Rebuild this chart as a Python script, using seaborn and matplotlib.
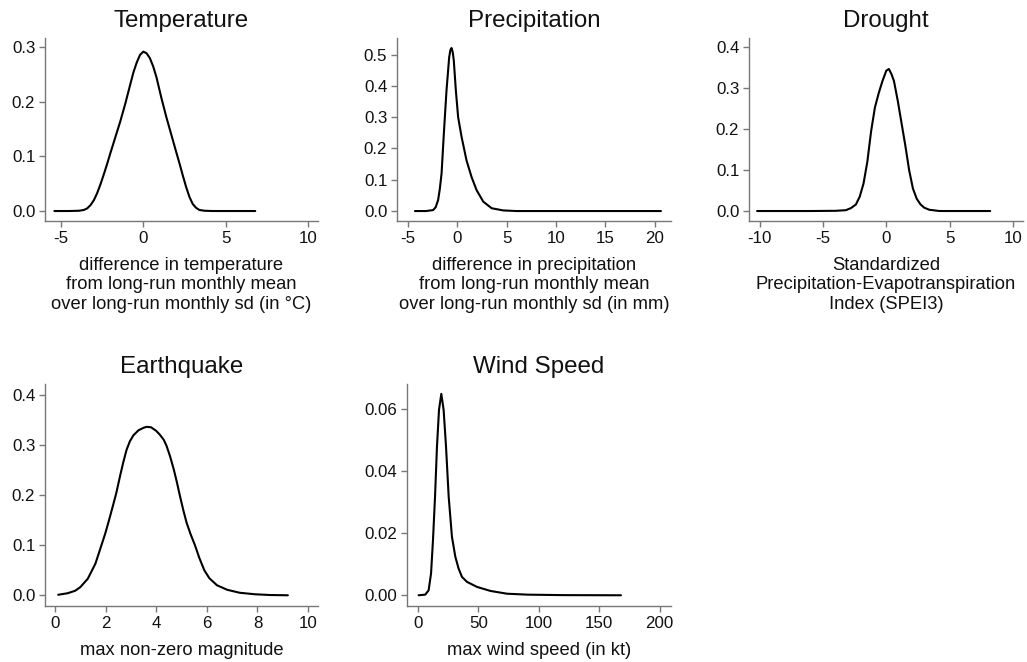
import numpy as np
import pandas as pd
import matplotlib
matplotlib.use('Agg')
import matplotlib.pyplot as plt
import seaborn as sns

# density curves
temp_x = [-5.4, -4.5, -3.9, -3.6, -3.4, -3.2, -3.0, -2.8, -2.6, -2.4, -2.2, -2.0, -1.7, -1.4, -1.1,
          -0.8, -0.6, -0.4, -0.2, 0.0, 0.2, 0.4, 0.6, 0.8, 1.1, 1.4, 1.7, 2.0, 2.2, 2.4, 2.6, 2.8,
          3.0, 3.2, 3.4, 3.7, 4.2, 5.0, 6.0, 6.8]
temp_y = [0, 0, 0.0005, 0.002, 0.005, 0.011, 0.02, 0.033, 0.049, 0.067, 0.086, 0.106, 0.135, 0.164,
          0.196, 0.231, 0.254, 0.272, 0.286, 0.292, 0.289, 0.280, 0.265, 0.245, 0.207, 0.172, 0.140,
          0.108, 0.087, 0.065, 0.044, 0.026, 0.013, 0.006, 0.002, 0.0005, 0, 0, 0, 0]

prec_x = [-4.3, -3.2, -2.46, -2.2, -1.95, -1.78, -1.6, -1.37, -1.1, -0.83, -0.7, -0.59, -0.47, -0.36,
          -0.15, 0.08, 0.43, 0.93, 1.44, 1.95, 2.63, 3.48, 4.65, 6, 10, 15, 20.65]
prec_y = [0, 0, 0.003, 0.012, 0.035, 0.07, 0.12, 0.247, 0.385, 0.491, 0.515, 0.521, 0.508, 0.481,
          0.385, 0.30, 0.237, 0.162, 0.109, 0.067, 0.03, 0.009, 0.002, 0, 0, 0, 0]

drought_x = [-10.2, -6, -4, -3.2, -2.8, -2.4, -2.1, -1.8, -1.5, -1.2, -0.9, -0.6, -0.3, 0, 0.2, 0.4,
             0.6, 0.9, 1.2, 1.5, 1.8, 2.1, 2.4, 2.7, 3.0, 3.4, 4.2, 6, 8.2]
drought_y = [0, 0, 0.0005, 0.002, 0.007, 0.016, 0.035, 0.067, 0.12, 0.195, 0.253, 0.288, 0.318, 0.343,
             0.347, 0.335, 0.318, 0.27, 0.215, 0.16, 0.1, 0.055, 0.03, 0.016, 0.008, 0.003, 0, 0, 0]

quake_x = [0.13, 0.5, 0.8, 1.0, 1.3, 1.6, 1.84, 2.0, 2.15, 2.3, 2.43, 2.57, 2.7, 2.83, 2.96, 3.1, 3.3,
           3.5, 3.62, 3.8, 4.0, 4.15, 4.3, 4.41, 4.55, 4.7, 4.82, 4.93, 5.07, 5.2, 5.35, 5.53, 5.7,
           5.9, 6.1, 6.4, 6.8, 7.3, 7.9, 8.5, 9.2]
quake_y = [0.001, 0.004, 0.009, 0.016, 0.033, 0.063, 0.1, 0.125, 0.152, 0.18, 0.205, 0.237, 0.265,
           0.29, 0.307, 0.319, 0.329, 0.334, 0.336, 0.335, 0.328, 0.32, 0.31, 0.298, 0.277, 0.25,
           0.225, 0.2, 0.17, 0.145, 0.123, 0.1, 0.075, 0.05, 0.034, 0.02, 0.011, 0.005, 0.002,
           0.0005, 0]

wind_x = [0.5, 6.0, 8.8, 10.8, 12.4, 14.1, 15.7, 17.4, 19.3, 21.2, 23.2, 25.4, 28.1, 30.9, 33.6, 36.4,
          40.6, 48.8, 59.9, 73.7, 91, 120, 168]
wind_y = [0, 0.0002, 0.0016, 0.007, 0.0177, 0.0317, 0.0478, 0.0597, 0.0648, 0.0597, 0.0478, 0.0317,
          0.0188, 0.0124, 0.0086, 0.0059, 0.0043, 0.0027, 0.0014, 0.0005, 0.0002, 0.00005, 0]

titles = ['Temperature', 'Precipitation', 'Drought', 'Earthquake', 'Wind Speed']
xlabels = [
    'difference in temperature\nfrom long-run monthly mean\nover long-run monthly sd (in °C)',
    'difference in precipitation\nfrom long-run monthly mean\nover long-run monthly sd (in mm)',
    'Standardized\nPrecipitation-Evapotranspiration\nIndex (SPEI3)',
    'max non-zero magnitude',
    'max wind speed (in kt)',
]
xticks = [[-5, 0, 5, 10], [-5, 0, 5, 10, 15, 20], [-10, -5, 0, 5, 10], [0, 2, 4, 6, 8, 10], [0, 50, 100, 150, 200]]
yticks = [[0.0, 0.1, 0.2, 0.3], [0.0, 0.1, 0.2, 0.3, 0.4, 0.5], [0.0, 0.1, 0.2, 0.3, 0.4],
          [0.0, 0.1, 0.2, 0.3, 0.4], [0.00, 0.02, 0.04, 0.06]]
yfmt = ['{:.1f}', '{:.1f}', '{:.1f}', '{:.1f}', '{:.2f}']

curves = [(temp_x, temp_y), (prec_x, prec_y), (drought_x, drought_y), (quake_x, quake_y), (wind_x, wind_y)]

sns.set_style('ticks')
plt.rcParams['font.family'] = ['Liberation Sans', 'DejaVu Sans']
plt.rcParams['axes.unicode_minus'] = False

W, H = 1027, 662
fig = plt.figure(figsize=(W / 100, H / 100), dpi=100)
fig.patch.set_facecolor('white')

# axes boxes in pixels: left, top, right, bottom
boxes = [(45, 38, 318, 221), (397, 38, 671, 221), (749, 38, 1023, 221),
         (45, 384, 318, 606), (407, 384, 671, 606)]
xlims = [(-5.97, 10.61), (-6.12, 21.67), (-10.84, 10.79), (-0.39, 10.39), (-9.1, 209.4)]
ylims = [(-0.0183, 0.317), (-0.0318, 0.553), (-0.0244, 0.4227), (-0.0214, 0.4214), (-0.00345, 0.06797)]

for i, (cx, cy) in enumerate(curves):
    l, t, r, b = boxes[i]
    ax = fig.add_axes([l / W, 1 - b / H, (r - l) / W, (b - t) / H])
    df = pd.DataFrame({'x': cx, 'y': cy})
    sns.lineplot(data=df, x='x', y='y', ax=ax, color='black', linewidth=1.5, sort=False)
    ax.set_xlim(*xlims[i])
    ax.set_ylim(*ylims[i])
    ax.set_xticks(xticks[i])
    ax.set_yticks(yticks[i])
    ax.set_yticklabels([yfmt[i].format(v) for v in yticks[i]])
    ax.set_ylabel('')
    ax.set_xlabel(xlabels[i], fontsize=13.2, color='#111111', labelpad=8, linespacing=1.18)
    ax.set_title(titles[i], fontsize=17.4, color='#111111', pad=8)
    sns.despine(ax=ax)
    for s in ['left', 'bottom']:
        ax.spines[s].set_color('#777777')
        ax.spines[s].set_linewidth(1.0)
    ax.tick_params(axis='both', length=4, width=1, color='#777777', labelsize=12.2,
                   labelcolor='#111111', pad=3)

fig.savefig('out.png', dpi=100)
